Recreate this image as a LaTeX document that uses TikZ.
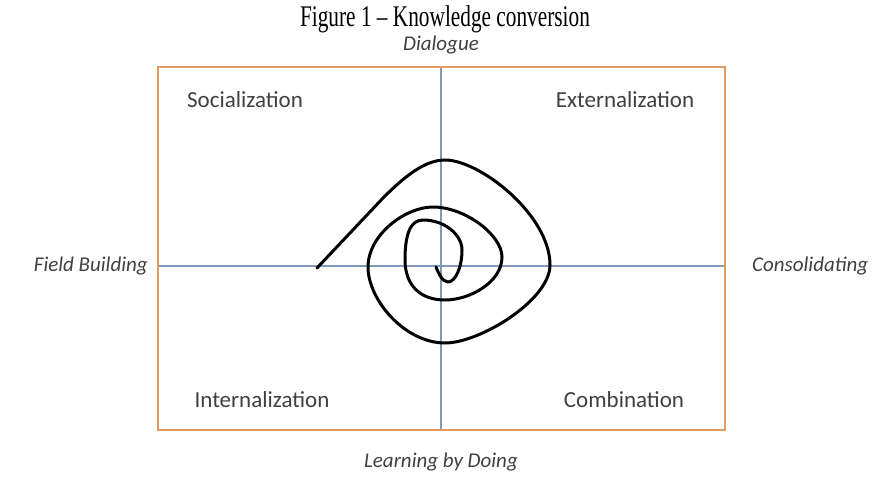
\documentclass[tikz,border=0pt]{standalone}
\usepackage{fontspec}
\setmainfont{Liberation Serif}
\newfontfamily\calib{Carlito}
\usetikzlibrary{positioning}
\definecolor{frameorange}{RGB}{226,156,96}
\definecolor{axisblue}{RGB}{128,152,186}
\definecolor{labelgray}{RGB}{64,64,64}

\begin{document}
\begin{tikzpicture}[x=1pt,y=-1pt]
\tikzset{
  quad/.style   ={font=\calib\fontsize{23}{27}\selectfont, text=labelgray, inner sep=0pt},
  axislbl/.style={font=\calib\itshape\fontsize{21}{25}\selectfont, text=labelgray, inner sep=0pt},
  frame/.style  ={draw=frameorange, line width=2pt},
  cross/.style  ={draw=axisblue, line width=1.3pt},
  spiral/.style ={draw=black, line width=3pt, line cap=round, line join=round}
}
\useasboundingbox (0,0) rectangle (890,481);
% frame and the two axes
\coordinate (nw) at (158,67);  \coordinate (se) at (725,430);
\coordinate (vt) at (441,67);  \coordinate (vb) at (441,430);
\coordinate (hl) at (158,266); \coordinate (hr) at (725,266);
\draw[cross] (vt) -- (vb);
\draw[cross] (hl) -- (hr);
\draw[frame] (nw) rectangle (se);
% the spiral, from the outer end inwards
\draw[spiral] (317,268) -- (383,198)
  .. controls (405,176) and (425,160) .. (445,160)
  .. controls (480,160) and (550,215) .. (550,265)
  .. controls (550,300) and (480,343) .. (445,343)
  .. controls (405,343) and (368,300) .. (368,267)
  .. controls (368,235) and (405,207) .. (433,207)
  .. controls (465,207) and (502,235) .. (502,257)
  .. controls (502,282) and (470,300) .. (445,300)
  .. controls (420,300) and (405,285) .. (405,260)
  .. controls (405,235) and (410,220) .. (423,220)
  .. controls (445,220) and (462,235) .. (462,250)
  .. controls (462,268) and (455,282) .. (448,282)
  .. controls (442,282) and (438,272) .. (436,267);
% labels
\node (title) at (445,19) {\fontsize{30}{34}\selectfont\scalebox{0.71}[1]{Figure 1 -- Knowledge conversion}};
\node (dia)[axislbl] at (441,45) {Dialogue};
\node (lbd)[axislbl] at (441,462) {Learning by Doing};
\node (fb)[axislbl, anchor=east] at (148,266) {Field Building};
\node (cons)[axislbl, anchor=west] at (752,266) {Consolidating};
\node (soc)[quad] at (245,100) {Socialization};
\node (ext)[quad] at (625,100) {Externalization};
\node (int)[quad] at (262,400) {Internalization};
\node (comb)[quad] at (624,400) {Combination};
\end{tikzpicture}
\end{document}
